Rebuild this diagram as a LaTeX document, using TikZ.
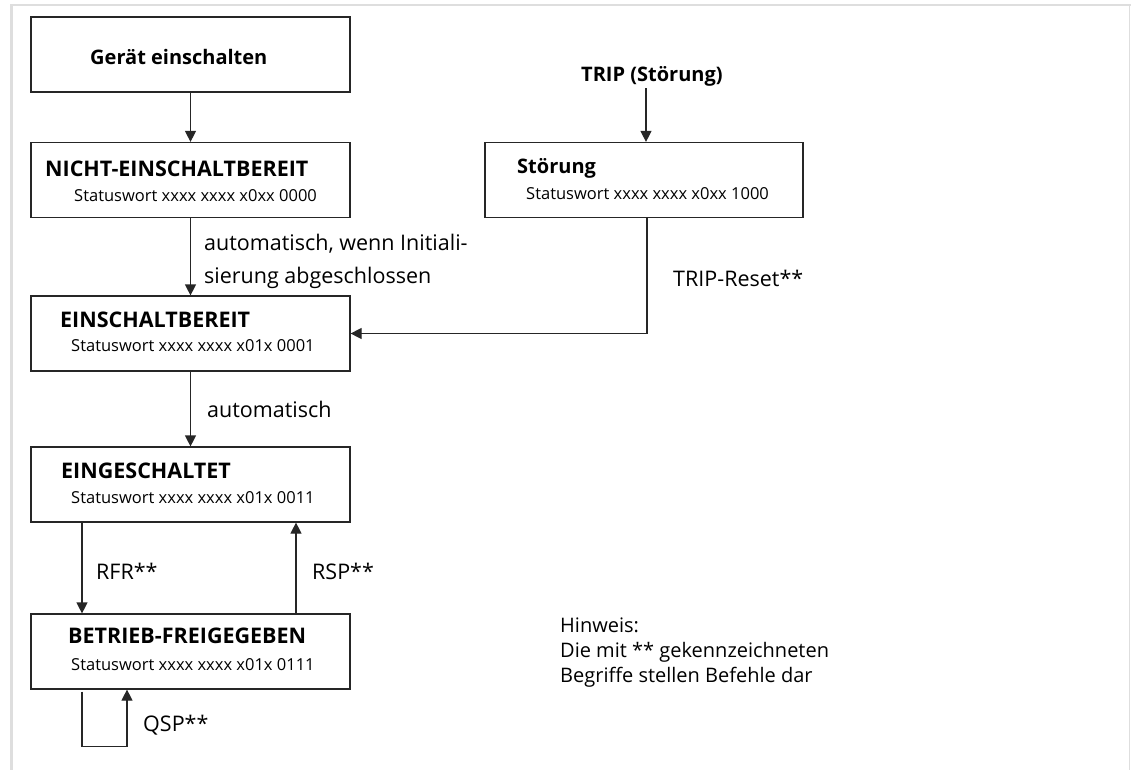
\documentclass[tikz,border=0pt]{standalone}
\usepackage{fontspec}
\setmainfont{Open Sans}
\usetikzlibrary{arrows.meta}
\begin{document}
\begin{tikzpicture}[x=1pt,y=-1pt,
 box/.style={draw=black!85,line width=1.2pt,minimum width=319pt,minimum height=75pt,inner sep=0pt},
 ttl/.style={anchor=base west,inner sep=0pt,font=\fontsize{21.5}{25}\selectfont\bfseries},
 ttlsm/.style={anchor=base west,inner sep=0pt,font=\fontsize{20}{24}\selectfont\bfseries},
 sw/.style={anchor=base west,inner sep=0pt,font=\fontsize{16.5}{19}\selectfont},
 lbl/.style={anchor=base west,inner sep=0pt,font=\fontsize{21.5}{25}\selectfont},
 note/.style={anchor=base west,inner sep=0pt,font=\fontsize{20}{24}\selectfont},
 arr/.style={draw=black!85,line width=1.2pt,-{Triangle[width=11pt,length=11pt]}},
 frame/.style={fill=black!13,draw=none}]
\useasboundingbox (0,0) rectangle (1131,770);
% page frame
\fill[frame] (10,4) rectangle (1131,6.5);
\fill[frame] (10,4) rectangle (13.3,770);
\fill[frame] (1129,4) rectangle (1130.4,770);
% boxes
\node[box] (geraet) at (190.5,54.5) {};
\node[box] (nicht) at (190.5,180) {};
\node[box] (ein) at (190.5,333.5) {};
\node[box] (einges) at (190.5,484.5) {};
\node[box] (betr) at (190.5,651.5) {};
\node[box,minimum width=318pt] (stoer) at (644,180) {};
% texts in boxes
\node[ttlsm] (tgeraet) at (90,65) {Gerät einschalten};
\node[ttl] (tnicht) at (45,177) {NICHT-EINSCHALTBEREIT};
\node[sw] (snicht) at (74,201) {Statuswort xxxx xxxx x0xx 0000};
\node[ttl] (tein) at (60,327) {EINSCHALTBEREIT};
\node[sw] (sein) at (71,351) {Statuswort xxxx xxxx x01x 0001};
\node[ttl] (teinges) at (61,478) {EINGESCHALTET};
\node[sw] (seinges) at (71,503) {Statuswort xxxx xxxx x01x 0011};
\node[ttl] (tbetr) at (68,643) {BETRIEB-FREIGEGEBEN};
\node[sw] (sbetr) at (71,670) {Statuswort xxxx xxxx x01x 0111};
\node[ttlsm] (tstoer) at (517,173) {Störung};
\node[sw] (sstoer) at (526,199) {Statuswort xxxx xxxx x0xx 1000};
\node[ttlsm,inner sep=1pt] (trip) at (580,82) {TRIP (Störung)};
% labels
\node[lbl] (l1a) at (204,250) {automatisch, wenn Initiali-};
\node[lbl] (l1b) at (204,283) {sierung abgeschlossen};
\node[lbl] (l2) at (207,417) {automatisch};
\node[lbl] (lrfr) at (96,579) {RFR**};
\node[lbl] (lrsp) at (312,579) {RSP**};
\node[lbl] (lqsp) at (143,731) {QSP**};
\node[lbl] (lreset) at (673,286) {TRIP-Reset**};
\node[note] (h1) at (560,632) {Hinweis:};
\node[note] (h2) at (560,657) {Die mit ** gekennzeichneten};
\node[note] (h3) at (560,682) {Begriffe stellen Befehle dar};
% connectors
\draw[arr] (geraet.south) -- (nicht.north);
\draw[arr] (nicht.south) -- (ein.north);
\draw[arr] (ein.south) -- (einges.north);
\draw[arr] (trip.south -| 646,0) -- (stoer.north -| 646,0);
\draw[arr] ([xshift=3pt]stoer.south) |- (ein.east);
\draw[arr] ([xshift=-108.5pt]einges.south) -- ([xshift=-108.5pt]betr.north);
\draw[arr] ([xshift=105.5pt]betr.north) -- ([xshift=105.5pt]einges.south);
\draw[arr] ([xshift=-108.5pt,yshift=-2pt]betr.south) -- ++(0,55) -| ([xshift=-63.5pt]betr.south);
\end{tikzpicture}
\end{document}
